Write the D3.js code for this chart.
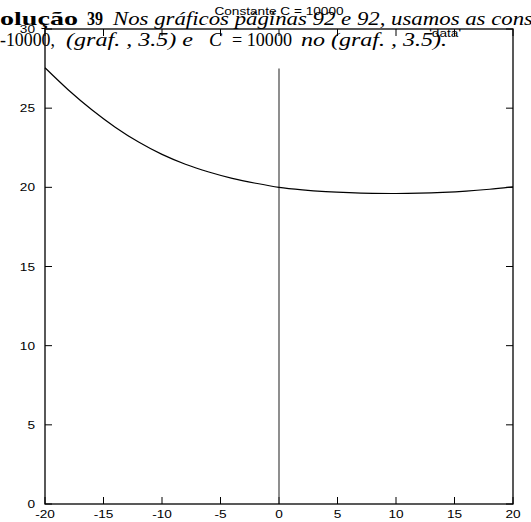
<!DOCTYPE html>
<html>
<head>
<meta charset="utf-8">
<script src="https://cdn.jsdelivr.net/npm/d3@7/dist/d3.min.js"></script>
<style>
  body { margin: 0; background: #fff; }
  svg { display: block; }
</style>
</head>
<body>
<div id="wrapper"></div>
<script>
// values
const curveX = [-20, -18, -16, -14, -12, -10, -8, -6, -4, -2, 0, 2, 4, 6, 8, 10, 12, 14, 16, 18, 20]
const curveY = [27.55, 26.15, 24.9, 23.8, 22.86, 22.08, 21.46, 20.97, 20.57, 20.26, 20.0, 19.84, 19.73, 19.66, 19.62, 19.61, 19.63, 19.68, 19.76, 19.88, 20.03]
const xTicks = [-20, -15, -10, -5, 0, 5, 10, 15, 20]
const yTicks = [0, 5, 10, 15, 20, 25, 30]
const zeroAxisTop = 27.5
const titleText = "Constante C = 10000"
const keyLabel = "'data'"

const dimensions = {
  width: 531,
  height: 522,
  margin: { top: 29, right: 18, bottom: 18, left: 45 }
}
dimensions.boundedWidth = dimensions.width - dimensions.margin.left - dimensions.margin.right
dimensions.boundedHeight = dimensions.height - dimensions.margin.top - dimensions.margin.bottom

const xScale = d3.scaleLinear().domain([-20, 20]).range([0, dimensions.boundedWidth])
const yScale = d3.scaleLinear().domain([0, 30]).range([dimensions.boundedHeight, 0])

const svg = d3.select("#wrapper")
  .append("svg")
  .attr("width", dimensions.width)
  .attr("height", dimensions.height)

const bounds = svg.append("g")
  .attr("transform", `translate(${dimensions.margin.left}, ${dimensions.margin.top})`)

const sansFont = "'Liberation Sans', Arial, sans-serif"
const stretch = 1.3

// stretched sans label, like the gnuplot output
const label = (g, x, y, text, anchor) => {
  g.append("text")
    .attr("transform", `translate(${x}, ${y}) scale(${stretch}, 1)`)
    .attr("text-anchor", anchor)
    .attr("font-family", sansFont)
    .attr("font-size", 10.5)
    .attr("fill", "#000")
    .text(text)
}

// ticks, inward on all four sides
const tickLen = 7
xTicks.forEach(t => {
  const x = xScale(t)
  bounds.append("line").attr("x1", x).attr("x2", x)
    .attr("y1", dimensions.boundedHeight).attr("y2", dimensions.boundedHeight - tickLen)
    .attr("stroke", "#000").attr("stroke-width", 1)
  bounds.append("line").attr("x1", x).attr("x2", x)
    .attr("y1", 0).attr("y2", tickLen)
    .attr("stroke", "#000").attr("stroke-width", 1)
  label(bounds, x, dimensions.boundedHeight + 14, t, "middle")
})
yTicks.forEach(t => {
  const y = yScale(t)
  bounds.append("line").attr("x1", 0).attr("x2", tickLen)
    .attr("y1", y).attr("y2", y)
    .attr("stroke", "#000").attr("stroke-width", 1)
  bounds.append("line").attr("x1", dimensions.boundedWidth).attr("x2", dimensions.boundedWidth - tickLen)
    .attr("y1", y).attr("y2", y)
    .attr("stroke", "#000").attr("stroke-width", 1)
  label(bounds, -10, y + 4, t, "end")
})

// zero axis
bounds.append("line")
  .attr("x1", xScale(0)).attr("x2", xScale(0))
  .attr("y1", yScale(0)).attr("y2", yScale(zeroAxisTop))
  .attr("stroke", "#444").attr("stroke-width", 1.2)

// frame
bounds.append("rect")
  .attr("width", dimensions.boundedWidth)
  .attr("height", dimensions.boundedHeight)
  .attr("fill", "none")
  .attr("stroke", "#000")
  .attr("stroke-width", 1.3)

// the curve
const points = curveX.map((x, i) => [x, curveY[i]])
const line = d3.line()
  .x(d => xScale(d[0]))
  .y(d => yScale(d[1]))
  .curve(d3.curveCatmullRom)

bounds.append("path")
  .attr("d", line(points))
  .attr("fill", "none")
  .attr("stroke", "#000")
  .attr("stroke-width", 1.2)

// title and key
label(svg, 279, 15, titleText, "middle")
label(svg, 461, 37, keyLabel, "end")

// page text overlapping the figure
const serif = "'Liberation Serif', 'DejaVu Serif', serif"
const pageText = svg.append("g").attr("font-family", serif).attr("font-size", 19).attr("fill", "#000")

const piece = (x, y, w, text, weight, style) => {
  pageText.append("text")
    .attr("x", x).attr("y", y)
    .attr("textLength", w)
    .attr("lengthAdjust", "spacingAndGlyphs")
    .attr("font-weight", weight)
    .attr("font-style", style)
    .text(text)
}

piece(0, 25, 78, "olução", "bold", "normal")
piece(87, 25, 16, "39", "bold", "normal")
piece(113, 25, 420, "Nos gráficos páginas 92 e 92, usamos as cons", "normal", "italic")

piece(0, 46, 55, "-10000,", "normal", "normal")
piece(66, 46, 127, "(graf. , 3.5) e", "normal", "italic")
piece(209, 46, 13, "C", "normal", "italic")
piece(232, 46, 60, "= 10000", "normal", "normal")
piece(301, 46, 146, "no (graf. , 3.5).", "normal", "italic")
</script>
</body>
</html>
